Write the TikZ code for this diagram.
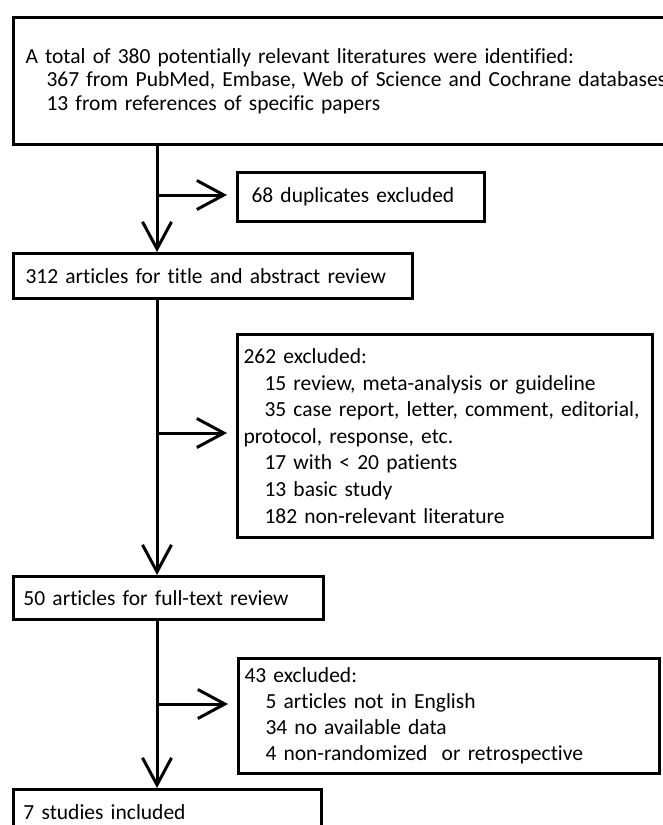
\documentclass[tikz,border=0pt]{standalone}
\usepackage{fontspec}
\setmainfont{Carlito}[Ligatures=NoCommon]
\usepackage{tikz}
\usetikzlibrary{arrows.meta,positioning,calc}

\newcommand{\ind}{\hspace*{10.5pt}}

\begin{document}
\begin{tikzpicture}[x=0.5pt, y=-0.5pt,
    box/.style={draw, line width=1.5pt, anchor=north west, align=left, inner ysep=0pt,
        font=\fontsize{10.75}{13.3}\selectfont},
    flow/.style={line width=1.5pt, -{Straight Barb[length=13.5pt, width=14.5pt]}}]
    \useasboundingbox (0,0) rectangle (663,825);
    \node[box, inner xsep=6pt, text width=332pt, minimum height=63.5pt,
        font=\fontsize{10.75}{11.8}\selectfont] (total) at (12,16)
        {A total of 380 potentially relevant literatures were identified:\\
         \ind 367 from PubMed, Embase, Web of Science and Cochrane databases\\
         \ind 13 from references of specific papers};
    \node[box, inner xsep=7pt, text width=109.5pt, minimum height=24.5pt] (dup) at (236,171)
        {68 duplicates excluded};
    \node[box, inner xsep=6pt, text width=187.5pt, minimum height=22.5pt] (r312) at (12,252)
        {312 articles for title and abstract review};
    \node[box, inner xsep=3pt, text width=201.5pt, minimum height=101.5pt] (ex262) at (236,333)
        {262 excluded:\\
         \ind 15 review, meta-analysis or guideline\\
         \ind 35 case report, letter, comment, editorial,\\
         protocol, response, etc.\\
         \ind 17 with < 20 patients\\
         \ind 13 basic study\\
         \ind 182 non-relevant literature};
    \node[box, inner xsep=5pt, text width=145pt, minimum height=21.5pt] (r50) at (12,575)
        {50 articles for full-text review};
    \node[box, inner xsep=3pt, text width=204.5pt, minimum height=57.5pt,
        font=\fontsize{10.75}{13}\selectfont] (ex43) at (237,657)
        {43 excluded:\\
         \ind 5 articles not in English\\
         \ind 34 no available data\\
         \ind 4 non-randomized\ \ or retrospective};
    \node[box, inner xsep=5pt, text width=144pt, minimum height=22.5pt] (inc7) at (12,788)
        {7 studies included};

    \coordinate (j1) at (157,195);
    \coordinate (j2) at (157,433);
    \coordinate (j3) at (157,704);
    \draw[flow] (total.south -| j1) -- (r312.north -| j1);
    \draw[flow, shorten >=4.5pt] (j1) -- (j1 -| dup.west);
    \draw[flow] (r312.south -| j2) -- (r50.north -| j2);
    \draw[flow, shorten >=4.5pt] (j2) -- (j2 -| ex262.west);
    \draw[flow] (r50.south -| j3) -- (inc7.north -| j3);
    \draw[flow, shorten >=4.5pt] (j3) -- (j3 -| ex43.west);
\end{tikzpicture}
\end{document}
